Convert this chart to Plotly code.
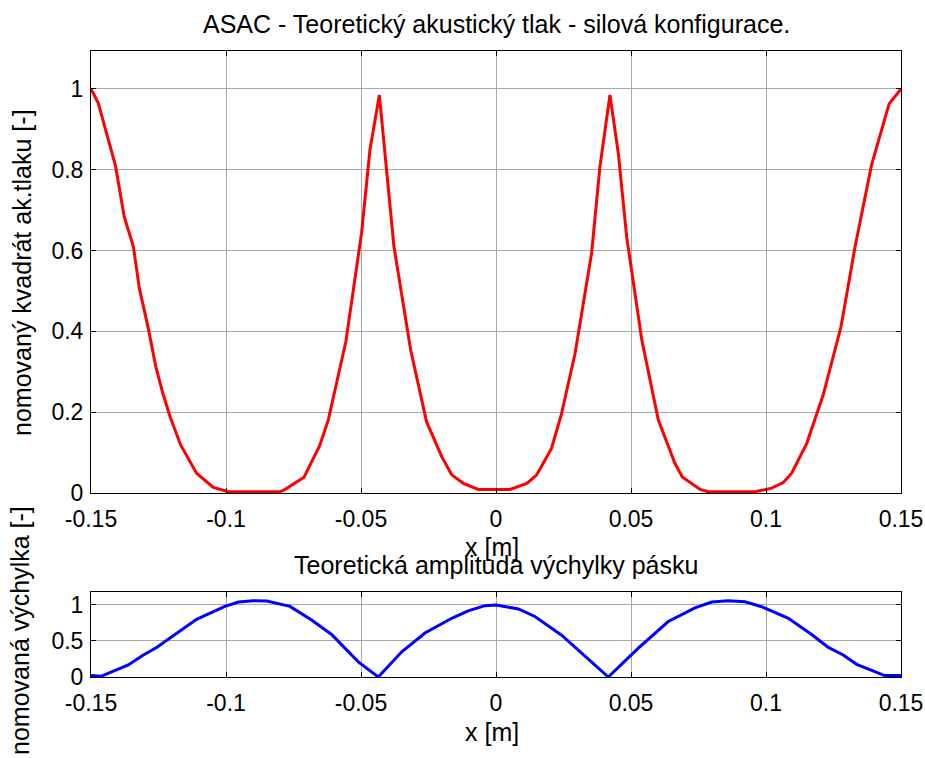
import plotly.graph_objects as go

# ---- data ----
red_x = [-0.150, -0.1473, -0.1409, -0.1377, -0.1343, -0.1321, -0.1288, -0.1260, -0.1234, -0.1207,
         -0.1168, -0.1109, -0.1047, -0.0991, -0.0800, -0.0781, -0.0711, -0.0654, -0.0621, -0.0556,
         -0.0498, -0.0467, -0.0432, -0.0378, -0.0316, -0.0257, -0.0201, -0.0164, -0.0121, -0.0065,
         -0.0004, 0.0052, 0.0114, 0.0151, 0.0206, 0.0243, 0.0293, 0.0354, 0.0385, 0.0422,
         0.0453, 0.0484, 0.0540, 0.0601, 0.0663, 0.0690, 0.0756, 0.0786, 0.0959, 0.1021,
         0.1064, 0.1095, 0.1151, 0.1212, 0.1278, 0.1330, 0.1391, 0.1456, 0.150]
red_y = [1.0, 0.965, 0.809, 0.684, 0.610, 0.507, 0.408, 0.313, 0.247, 0.189,
         0.119, 0.049, 0.014, 0.003, 0.003, 0.009, 0.039, 0.116, 0.181, 0.375,
         0.643, 0.849, 0.985, 0.610, 0.354, 0.176, 0.090, 0.045, 0.024, 0.009,
         0.009, 0.009, 0.024, 0.045, 0.111, 0.197, 0.346, 0.593, 0.808, 0.985,
         0.841, 0.634, 0.379, 0.181, 0.073, 0.040, 0.009, 0.003, 0.003, 0.012,
         0.026, 0.049, 0.123, 0.243, 0.412, 0.610, 0.812, 0.963, 1.0]

blue_x = [-0.150, -0.1463, -0.1362, -0.1306, -0.1257, -0.1189, -0.1109, -0.1004, -0.0954, -0.0899,
          -0.0849, -0.0763, -0.0683, -0.0609, -0.0510, -0.0436, -0.0349, -0.0263, -0.0164, -0.0103,
          -0.0041, 0.0, 0.0083, 0.0144, 0.0243, 0.0416, 0.0527, 0.0638, 0.0737, 0.0799,
          0.0860, 0.0922, 0.0984, 0.1083, 0.1169, 0.1231, 0.1286, 0.1336, 0.1391, 0.1440,
          0.1490, 0.150]
blue_y = [0.02, 0.01, 0.167, 0.306, 0.41, 0.59, 0.80, 0.98, 1.04, 1.06,
          1.055, 0.98, 0.79, 0.59, 0.21, 0.0, 0.35, 0.61, 0.815, 0.917,
          0.99, 1.0, 0.944, 0.84, 0.58, 0.0, 0.40, 0.77, 0.96, 1.04,
          1.06, 1.045, 0.976, 0.815, 0.59, 0.41, 0.306, 0.176, 0.097, 0.02,
          0.02, 0.02]

x_ticks = [-0.15, -0.1, -0.05, 0, 0.05, 0.1, 0.15]
x_ticktext = ["-0.15", "-0.1", "-0.05", "0", "0.05", "0.1", "0.15"]
y1_ticks = [0, 0.2, 0.4, 0.6, 0.8, 1]
y1_ticktext = ["0", "0.2", "0.4", "0.6", "0.8", "1"]
y2_ticks = [0, 0.5, 1]
y2_ticktext = ["0", "0.5", "1"]

title_top = "ASAC - Teoretický akustický tlak - silová konfigurace."
title_bottom = "Teoretická amplituda výchylky pásku"
ylabel_top = "nomovaný kvadrát ak.tlaku [-]"
ylabel_bottom = "nomovaná výchylka [-]"
xlabel = "x [m]"

FONT = "Liberation Sans, Arial, sans-serif"
GRID = "#a8a8a8"

fig = go.Figure()
fig.add_trace(go.Scatter(x=red_x, y=red_y, mode="lines", line=dict(color="#ff0000", width=3),
                         xaxis="x", yaxis="y", showlegend=False))
fig.add_trace(go.Scatter(x=blue_x, y=blue_y, mode="lines", line=dict(color="#0000ff", width=3),
                         xaxis="x2", yaxis="y2", showlegend=False))

axis_common = dict(showline=True, linecolor="black", linewidth=1, mirror="ticks",
                   ticks="inside", ticklen=5, tickcolor="black", automargin=False,
                   showgrid=True, gridcolor=GRID, gridwidth=1, zeroline=False,
                   tickfont=dict(family=FONT, size=23, color="black"))

fig.update_layout(
    width=925, height=758, autosize=False,
    margin=dict(l=91, r=24, t=51, b=81, autoexpand=False),
    paper_bgcolor="white", plot_bgcolor="white",
    xaxis=dict(domain=[0, 1], anchor="y", range=[-0.15, 0.15], tickvals=x_ticks, ticktext=x_ticktext,
               ticklabelstandoff=5, **axis_common),
    yaxis=dict(domain=[0.2939, 1], anchor="x", range=[0, 1.094], tickvals=y1_ticks, ticktext=y1_ticktext,
               ticklabelstandoff=2, **axis_common),
    xaxis2=dict(domain=[0, 1], anchor="y2", range=[-0.15, 0.15], tickvals=x_ticks, ticktext=x_ticktext,
                ticklabelstandoff=5, **axis_common),
    yaxis2=dict(domain=[0, 0.1358], anchor="x2", range=[0, 1.18], tickvals=y2_ticks, ticktext=y2_ticktext,
                ticklabelstandoff=2, **axis_common),
)

ann_font = dict(family=FONT, size=25, color="black")
annotations = [
    dict(text=title_top, x=0.5, y=1.0431, xanchor="center", yanchor="middle"),
    dict(text=xlabel, x=0.4955, y=0.2077, xanchor="center", yanchor="middle"),
    dict(text=title_bottom, x=0.5, y=0.1789, xanchor="center", yanchor="middle"),
    dict(text=xlabel, x=0.4955, y=-0.0879, xanchor="center", yanchor="middle"),
    dict(text=ylabel_top, x=-0.0852, y=0.647, xanchor="center", yanchor="middle", textangle=-90),
    dict(text=ylabel_bottom, x=-0.0877, y=0.0751, xanchor="center", yanchor="middle", textangle=-90),
]
for a in annotations:
    fig.add_annotation(xref="paper", yref="paper", showarrow=False, font=ann_font, **a)

fig.write_html("out.html")
